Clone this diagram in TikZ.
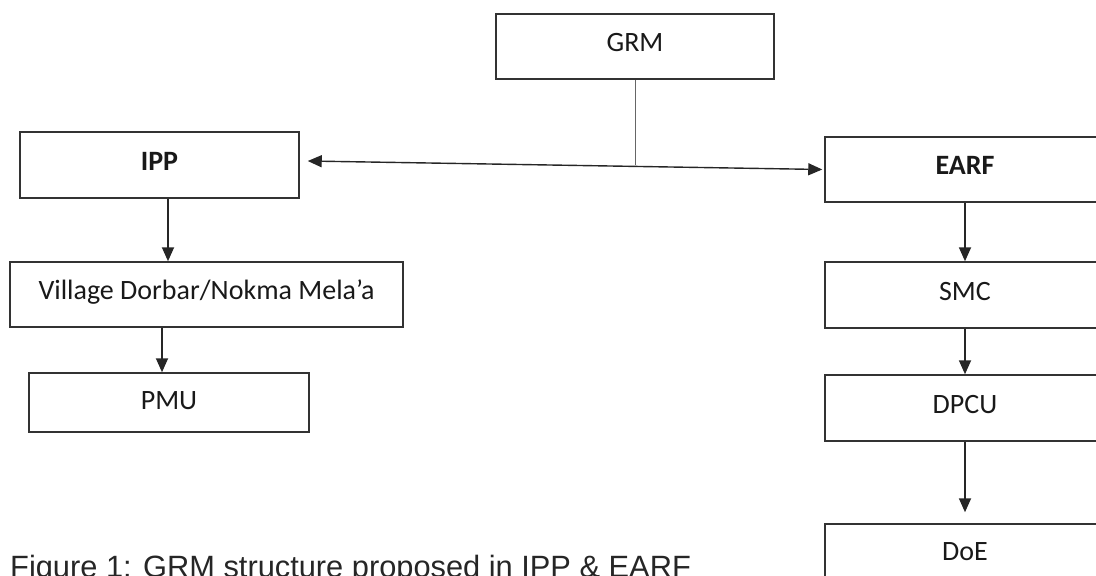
\documentclass[tikz,border=0pt]{standalone}
\usepackage{fontspec}
\setmainfont{Carlito}
\newfontfamily\capfont{Liberation Sans}
\usetikzlibrary{arrows.meta,calc}
\begin{document}
\begin{tikzpicture}[x=1pt,y=-1pt,
  box/.style={draw=black!80,line width=1.5pt,minimum height=65pt,inner sep=0pt,
    font=\fontsize{28}{31}\selectfont,text height=18pt,text depth=8pt,text=black!90},
  arr/.style={draw=black!85,line width=1.8pt,-{Triangle[length=14pt,width=12pt]}},
  link/.style={draw=black!60,line width=1pt},
  dbl/.style={draw=black!85,line width=1.4pt,{Triangle[length=14pt,width=12pt]}-{Triangle[length=14pt,width=12pt]}},
  ]
\useasboundingbox (0,0) rectangle (1096,576);

% left column and top
\node[box,minimum width=278pt] (grm) at (635,46.5) {GRM};
\node[box,minimum width=279pt,minimum height=66pt,font=\fontsize{28}{31}\selectfont\bfseries] (ipp) at (159.5,165) {IPP};
\node[box,minimum width=393pt] (vil) at (206.5,294.5) {Village Dorbar/Nokma Mela’a};
\node[box,minimum width=280pt,minimum height=59pt,text depth=5pt] (pmu) at (169,402.5) {PMU};

% right column
\node[box,minimum width=280pt,font=\fontsize{28}{31}\selectfont\bfseries] (earf) at (965,169.5) {EARF};
\node[box,minimum width=280pt,minimum height=66pt] (smc) at (965,295) {SMC};
\node[box,minimum width=280pt,minimum height=66pt] (dpcu) at (965,408) {DPCU};
\node[box,minimum width=280pt,minimum height=66pt,text depth=12pt] (doe) at (965,557) {DoE};

% connectors
\coordinate (j) at (635,165);
\draw[link] (grm.south) -- (j);
\draw[dbl] ($(ipp.east)+(8,-4)$) -- ($(earf.west)+(-2,0)$);
\draw[arr] ([xshift=8.5pt]ipp.south) -- ([xshift=8.5pt]ipp.south |- vil.north);
\draw[arr] ([xshift=-7pt]pmu.north |- vil.south) -- ([xshift=-7pt]pmu.north);
\draw[arr] (earf.south) -- (smc.north);
\draw[arr] (smc.south) -- (dpcu.north);
\draw[arr,shorten >=11pt] (dpcu.south) -- (doe.north);

% caption
\node[anchor=base west,inner sep=0pt,text=black!85,
  font=\capfont\fontsize{30.8}{34}\selectfont] (cap) at (10,577)
  {Figure 1: GRM structure proposed in IPP \& EARF};
\end{tikzpicture}
\end{document}
